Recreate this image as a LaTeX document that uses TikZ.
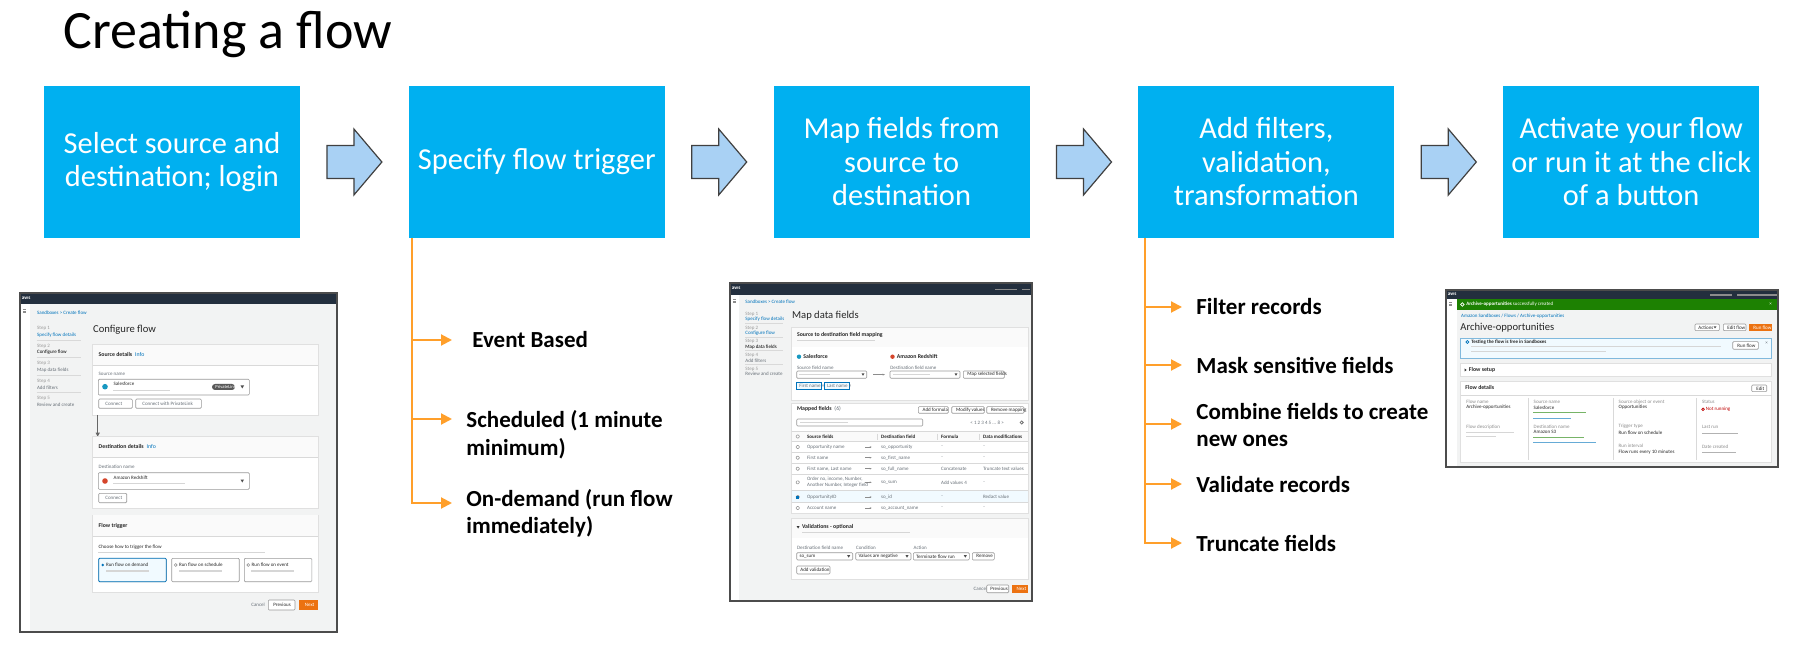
\documentclass[tikz,border=0pt]{standalone}
\usepackage{fontspec}
\setmainfont{Carlito}
\usetikzlibrary{arrows.meta,calc,positioning}

\definecolor{stepblue}{HTML}{00B0F0}
\definecolor{arrowfill}{HTML}{A9D1F4}
\definecolor{arrowedge}{HTML}{404040}
\definecolor{flagorange}{HTML}{FF9F2A}
\definecolor{awsnavy}{HTML}{232F3E}
\definecolor{ssgrey}{HTML}{F2F3F3}
\definecolor{ssband}{HTML}{FAFAFA}
\definecolor{sstext}{HTML}{687078}
\definecolor{sslink}{HTML}{0073BB}
\definecolor{ssorange}{HTML}{EC7211}
\definecolor{ssgreen}{HTML}{1D8102}
\definecolor{ssinfo}{HTML}{F1FAFF}
\definecolor{sfblue}{HTML}{1798C1}
\definecolor{rsred}{HTML}{D5452B}

\tikzset{
  stepbox/.style={fill=stepblue, text=white, minimum width=128pt, minimum height=76pt,
    inner sep=0pt, align=center, font=\fontsize{15.2}{16.75}\selectfont},
  blockarrow/.style={fill=arrowfill, draw=arrowedge, line width=0.6pt},
  trunk/.style={draw=flagorange, line width=1pt},
  branch/.style={trunk, -{Triangle[length=5.5pt,width=5.5pt]}},
  itemtext/.style={anchor=base west, inner xsep=7pt, inner ysep=0pt, align=left,
    font=\bfseries\fontsize{11.5}{13.5}\selectfont},
  ssframe/.style={draw=black!70, line width=0.8pt},
  sspanel/.style={fill=white, draw=black!12, line width=0.3pt},
  ssrule/.style={draw=black!15, line width=0.3pt},
  ssbtn/.style={draw=black!40, fill=white, line width=0.3pt, rounded corners=0.5pt},
  ssblur/.style={fill=black!16},
  sst/.style={anchor=west, inner sep=0pt, text=sstext, font=\fontsize{2.5}{2.9}\selectfont},
  ssb/.style={sst, text=black!85, font=\bfseries\fontsize{2.9}{3.4}\selectfont},
  sstitle/.style={sst, text=black!85, font=\fontsize{5.3}{6}\selectfont},
}

\begin{document}
\begin{tikzpicture}[x=0.5pt,y=-0.5pt]
\useasboundingbox (0,0) rectangle (1798,662);
\fill[white] (0,0) rectangle (1798,662);

\node[anchor=base west, inner sep=0pt, font=\fontsize{27}{32}\selectfont] (title) at (63,49) {Creating a flow};

% the five steps
\node[stepbox] (b1) at (172,162) {Select source and\\destination; login};
\node[stepbox, right=54pt of b1] (b2) {Specify flow trigger};
\node[stepbox, right=54pt of b2] (b3) {Map fields from\\source to\\destination};
\node[stepbox, right=54pt of b3] (b4) {Add filters,\\validation,\\transformation};
\node[stepbox, right=54pt of b4] (b5) {Activate your flow\\or run it at the click\\of a button};

\foreach \a/\b in {b1/b2,b2/b3,b3/b4,b4/b5}
  \draw[blockarrow] ($(\a.east)!0.5!(\b.west)$) ++(-27.5,-16.5) -- ++(27,0) -- ++(0,-16.5)
    -- ++(28,33) -- ++(-28,33) -- ++(0,-16.5) -- ++(-27,0) -- cycle;

% trigger types (base = last line)
\coordinate (t2) at ($(b2.south west)+(4,0)$);
\node[itemtext] (ev) at (452,348) {\hspace*{3pt}Event Based};
\node[itemtext] (sc) at (452,455) {Scheduled (1 minute\\minimum)};
\node[itemtext] (od) at (452,533) {On-demand (run flow\\immediately)};
\foreach \n/\s in {ev/4pt,sc/18pt,od/15pt} \coordinate (\n-in) at ([yshift=\s]\n.base west);
\foreach \n in {ev,sc} \draw[branch] (t2 |- \n-in) -- (\n-in);
\draw[branch] (t2) |- (od-in);

% filters and validation
\coordinate (t4) at ($(b4.south west)+(7,0)$);
\node[itemtext] (fr) at (1182,315) {Filter records};
\node[itemtext] (ms) at (1182,373) {Mask sensitive fields};
\node[itemtext] (cf) at (1182,446) {Combine fields to create\\new ones};
\node[itemtext] (vr) at (1182,492) {Validate records};
\node[itemtext] (tf) at (1182,551) {Truncate fields};
\foreach \n/\s in {fr/4pt,ms/4pt,cf/11pt,vr/4pt,tf/4pt} \coordinate (\n-in) at ([yshift=\s]\n.base west);
\foreach \n in {fr,ms,cf,vr} \draw[branch] (t4 |- \n-in) -- (\n-in);
\draw[branch] (t4) |- (tf-in);

% screenshot: configure flow
\begin{scope}[shift={(20,293)}]
  \fill[ssgrey] (0,0) rectangle (317,339);
  \fill[white] (0,11) rectangle (10,339);
  \fill[awsnavy] (0,0) rectangle (317,11);
  \node[sst, text=white, font=\bfseries\fontsize{2.6}{3}\selectfont] at (1.5,5) {aws};
  \foreach \y in {16.5,18,19.5} \draw[black!45, line width=0.3pt] (3,\y) -- (6,\y);
  \node[sst, text=sslink] at (16.7,19.3) {Sandboxes \textgreater{} Create flow};
  \foreach \lbl/\clr [count=\k] in {Specify flow details/sslink, Configure flow/black,
      Map data fields/sstext, Add filters/sstext, Review and create/sstext} {
    \node[sst, text=black!40] at (16.7,{35.3+17.5*(\k-1)}) {Step \k};
    \node[sst, text=\clr] at (16.7,{41.8+17.5*(\k-1)}) {\lbl};
  }
  \foreach \k in {0,...,3} \draw[ssrule] (16.7,{47+17.5*\k}) -- (61,{47+17.5*\k});
  \node[sstitle] at (72.7,37) {Configure flow};
  % source
  \draw[sspanel] (72.7,51.3) rectangle (298.3,122);
  \fill[ssband] (73,51.6) rectangle (298,72);
  \draw[ssrule] (72.7,72) -- (298.3,72);
  \node[ssb] at (78.3,61) {Source details\enspace\textcolor{sslink}{\mdseries Info}};
  \node[sst] at (78.3,81) {Source name};
  \draw[ssbtn] (78.3,86.3) rectangle (229.3,102);
  \fill[sfblue] (85,93.7) circle (2.8);
  \node[sst, text=black!85] at (93.3,91) {Salesforce};
  \fill[ssblur] (93.3,96.9) rectangle (150,98.3);
  \fill[black!65, rounded corners=1.5pt] (192,91) rectangle (215,97);
  \node[sst, text=white, font=\fontsize{2.3}{3}\selectfont] at (195,94) {PrivateLink};
  \fill[black!70] (220.5,92.5) -- (224,92.5) -- (222.3,95.5) -- cycle;
  \draw[ssbtn] (78.7,106) rectangle (112.3,115.3);
  \node[sst] at (85,110.7) {Connect};
  \draw[ssbtn] (115.7,106) rectangle (181.3,115.3);
  \node[sst] at (122,110.7) {Connect with PrivateLink};
  \draw[black!60, line width=0.4pt, -{Triangle[length=2pt,width=2pt]}] (77.7,122) -- (77.7,143.7);
  % destination
  \draw[sspanel] (72.7,143.7) rectangle (298.3,215.3);
  \fill[ssband] (73,144) rectangle (298,164.7);
  \draw[ssrule] (72.7,164.7) -- (298.3,164.7);
  \node[ssb] at (78.3,153.7) {Destination details\enspace\textcolor{sslink}{\mdseries Info}};
  \node[sst] at (78.3,173.7) {Destination name};
  \draw[ssbtn] (78.3,179.7) rectangle (229.3,196.3);
  \fill[rsred] (85,188) circle (2.8);
  \node[sst, text=black!85] at (93.3,184.7) {Amazon Redshift};
  \fill[ssblur] (93.3,190) rectangle (165,191.4);
  \fill[black!70] (220.5,186.5) -- (224,186.5) -- (222.3,189.5) -- cycle;
  \draw[ssbtn] (78.7,200.3) rectangle (106.7,209.7);
  \node[sst] at (85,205) {Connect};
  % trigger
  \draw[sspanel] (72.7,222) rectangle (298.3,299.3);
  \fill[ssband] (73,222.3) rectangle (298,243);
  \draw[ssrule] (72.7,243) -- (298.3,243);
  \node[ssb] at (78.3,232.7) {Flow trigger};
  \node[sst, text=black!85] at (78.3,253.7) {Choose how to trigger the flow};
  \fill[ssblur] (78.3,258.6) rectangle (245,260);
  \foreach \xa/\lbl in {78.7/Run flow on demand, 151.7/Run flow on schedule, 224.3/Run flow on event} {
    \draw[ssbtn] (\xa,265.3) rectangle ({\xa+67.5},288.7);
    \draw[black!40, fill=white, line width=0.3pt] ({\xa+4},272) circle (1.4);
    \node[sst, text=black!85] at ({\xa+7},272) {\lbl};
    \fill[ssblur] ({\xa+7},277.3) rectangle ({\xa+50},278.6);
  }
  \draw[sslink, fill=ssinfo, line width=0.4pt, rounded corners=0.5pt] (78.7,265.3) rectangle (146.2,288.7);
  \fill[sslink] (82.7,272) circle (1.4);
  \node[sst, text=black!85] at (85.7,272) {Run flow on demand};
  \fill[ssblur] (85.7,277.3) rectangle (128.7,278.6);
  \node[sst] at (231,312) {Cancel};
  \draw[ssbtn] (248.3,307) rectangle (275,317);
  \node[sst, text=black!85] at (253,312) {Previous};
  \fill[ssorange] (279,307) rectangle (298.3,317);
  \node[sst, text=white] at (284.5,312) {Next};
  \draw[ssframe] (0,0) rectangle (317,339);
\end{scope}

% screenshot: map data fields
\begin{scope}[shift={(730,283)}]
  \fill[ssgrey] (0,0) rectangle (302,318);
  \fill[white] (0,12) rectangle (9,318);
  \fill[awsnavy] (0,0) rectangle (302,12);
  \node[sst, text=white, font=\bfseries\fontsize{2.6}{3}\selectfont] at (1.5,5.5) {aws};
  \fill[black!45] (265,5.6) rectangle (286.7,7);
  \fill[black!45] (291.7,5.6) rectangle (300,7);
  \foreach \y in {16.5,18,19.5} \draw[black!45, line width=0.3pt] (3,\y) -- (6,\y);
  \node[sst, text=sslink] at (15,18.7) {Sandboxes \textgreater{} Create flow};
  \foreach \lbl/\clr [count=\k] in {Specify flow details/sslink, Configure flow/sslink,
      Map data fields/black, Add filters/sstext, Review and create/sstext} {
    \node[sst, text=black!40] at (15,{31.3+13.7*(\k-1)}) {Step \k};
    \node[sst, text=\clr] at (15,{36.3+13.7*(\k-1)}) {\lbl};
  }
  \foreach \k in {0,...,3} \draw[ssrule] (15,{40.3+13.7*\k}) -- (52.7,{40.3+13.7*\k});
  \node[sstitle] at (61.7,32.7) {Map data fields};
  % mapping
  \draw[sspanel] (61.7,44.3) rectangle (298.3,117);
  \fill[ssband] (62,44.6) rectangle (298,64.3);
  \node[ssb] at (66.7,52) {Source to destination field mapping};
  \fill[ssblur] (66.7,57.1) rectangle (145,58.3);
  \fill[sfblue] (69,73.7) circle (2.2);
  \node[ssb] at (73,73.7) {Salesforce};
  \fill[rsred] (162.5,73.7) circle (2.2);
  \node[ssb] at (166.5,73.7) {Amazon Redshift};
  \node[sst] at (66.7,84.3) {Source field name};
  \draw[ssbtn] (66.7,88) rectangle (136.7,95.3);
  \fill[ssblur] (69,91) rectangle (100,92.2);
  \fill[black!70] (131.5,90.3) -- (134.5,90.3) -- (133,92.8) -- cycle;
  \draw[black!45, line width=0.3pt, -{Stealth[length=1.2pt]}] (143.3,91.6) -- (155,91.6);
  \node[sst] at (160,84.3) {Destination field name};
  \draw[ssbtn] (160,88) rectangle (230,95.3);
  \fill[ssblur] (162.5,91) rectangle (200,92.2);
  \fill[black!70] (224.5,90.3) -- (227.5,90.3) -- (226,92.8) -- cycle;
  \draw[ssbtn] (233.3,88) rectangle (274.3,95.3);
  \node[sst, text=black!85] at (237,91.6) {Map selected fields};
  \draw[sslink, fill=ssinfo, line width=0.3pt] (66.7,99.3) rectangle (91.7,106.3);
  \node[sst] at (69,102.8) {First name \texttimes};
  \draw[sslink, fill=ssinfo, line width=0.3pt] (94.3,99.3) rectangle (119.3,106.3);
  \node[sst] at (96.6,102.8) {Last name \texttimes};
  % mapped fields
  \draw[sspanel] (61.7,120.3) rectangle (298.3,230.3);
  \node[ssb] at (66.7,126.3) {Mapped fields\enspace\textcolor{sstext}{\mdseries(6)}};
  \foreach \xa/\xb/\lbl in {188.3/218.3/Add formula, 221.7/254.3/Modify values, 256.7/294/Remove mapping} {
    \draw[ssbtn] (\xa,123.7) rectangle (\xb,130.3);
    \node[sst, text=black!85] at ({\xa+4},127) {\lbl};
  }
  \draw[ssbtn] (66.7,136) rectangle (192.7,143);
  \fill[ssblur] (70,139) rectangle (118,140.2);
  \node[sst] at (240,139.5) {\textless{} 1 2 3 4 5 ... 8 \textgreater};
  \draw[black!55, line width=0.4pt] (291.7,139.5) circle (1.6);
  \fill[ssband] (62,148.3) rectangle (298,158.7);
  \draw[ssrule] (61.7,148.3) -- (298.3,148.3);
  \draw[ssrule] (61.7,158.7) -- (298.3,158.7);
  \foreach \x/\lbl in {76.7/Source fields, 150.7/Destination field, 210.7/Formula, 252.7/Data modifications}
    \node[ssb, font=\bfseries\fontsize{2.5}{3}\selectfont] at (\x,153.5) {\lbl};
  \foreach \x in {147,207,249} \draw[ssrule] (\x,150.5) -- (\x,156.5);
  \fill[ssinfo] (62,207) rectangle (298,219.5);
  \foreach \y in {169.3,180.2,191.2,207,219.5} \draw[ssrule] (61.7,\y) -- (298.3,\y);
  \foreach \y in {153.5,164,174.7,185.7,199.3,214,225} \draw[ssbtn] (66.2,{\y-1.5}) rectangle (69.2,{\y+1.5});
  \fill[sslink] (66.2,212.5) rectangle (69.2,215.5);
  \foreach \y/\src/\dst/\frm/\mdf in {164/Opportunity name/so\_opportunity/-/-,
      174.7/First name/so\_first\_name/-/-,
      185.7/{First name, Last name}/so\_full\_name/Concatenate/Truncate text values,
      199.3/{}/so\_sum/Add values 4/-,
      214/OpportunityID/so\_id/-/Redact value,
      225/Account name/so\_account\_name/-/-} {
    \node[sst] at (76.7,\y) {\src};
    \draw[black!45, line width=0.25pt, -{Stealth[length=1pt]}] (135,\y) -- (141.7,\y);
    \node[sst] at (150.7,\y) {\dst};
    \node[sst] at (210.7,\y) {\frm};
    \node[sst] at (252.7,\y) {\mdf};
  }
  \node[sst, align=left] at (76.7,199.3) {Order no, income, Number,\\Another Number, Integer field};
  % validations
  \draw[sspanel] (61.7,235.3) rectangle (298.3,296.3);
  \fill[ssband] (62,235.6) rectangle (298,255.3);
  \fill[black!80] (66.7,243.2) -- (69.5,243.2) -- (68.1,245.5) -- cycle;
  \node[ssb] at (71.7,244.3) {Validations - optional};
  \fill[ssblur] (71.7,249.2) rectangle (180,250.4);
  \node[sst] at (66.7,264.3) {Destination field name};
  \node[sst] at (125.7,264.3) {Condition};
  \node[sst] at (183.3,264.3) {Action};
  \foreach \xa/\xb/\lbl in {66.7/122.7/so\_sum, 125.7/181/Values are negative, 183.3/239.3/Terminate flow run} {
    \draw[ssbtn] (\xa,269.7) rectangle (\xb,277);
    \node[sst, text=black!85] at ({\xa+2.5},273.4) {\lbl};
    \fill[black!70] ({\xb-5.5},272.2) -- ({\xb-2.5},272.2) -- ({\xb-4},274.7) -- cycle;
  }
  \draw[ssbtn] (242.3,269.7) rectangle (264.3,277);
  \node[sst, text=black!85] at (246,273.4) {Remove};
  \draw[ssbtn] (66.7,283) rectangle (100,291);
  \node[sst, text=black!85] at (70,287) {Add validation};
  \node[sst] at (243.3,306) {Cancel};
  \draw[ssbtn] (256.7,302) rectangle (278.7,309.7);
  \node[sst, text=black!85] at (260,306) {Previous};
  \fill[ssorange] (282.3,302) rectangle (298.3,309.7);
  \node[sst, text=white] at (286.3,306) {Next};
  \draw[ssframe] (0,0) rectangle (302,318);
\end{scope}

% screenshot: flow created
\begin{scope}[shift={(1446,290)}]
  \fill[ssgrey] (0,0) rectangle (332,177);
  \fill[white] (0,9.3) rectangle (10.7,177);
  \fill[awsnavy] (0,0) rectangle (332,9.3);
  \node[sst, text=white, font=\bfseries\fontsize{2.6}{3}\selectfont] at (1.5,4.7) {aws};
  \fill[black!45] (264,4.3) rectangle (285.7,5.6);
  \fill[black!45] (290.7,4.3) rectangle (330.7,5.6);
  \foreach \y in {12.5,14,15.5} \draw[black!45, line width=0.3pt] (3.3,\y) -- (6.3,\y);
  \fill[ssgreen] (10.7,9.3) rectangle (330.7,20);
  \draw[white, line width=0.35pt] (16.3,14.5) circle (1.8);
  \node[sst, text=white] at (20,14.5) {\textbf{Archive-opportunities} successfully created};
  \node[sst, text=white] at (323,14.5) {\texttimes};
  \node[sst, text=sslink] at (14.7,26) {Amazon Sandboxes / Flows / Archive-opportunities};
  \node[sstitle] at (14,37.3) {Archive-opportunities};
  \draw[ssbtn] (249,34) rectangle (273.3,40.7);
  \node[sst, text=black!85] at (252,37.4) {Actions};
  \fill[black!70] (267.5,36.3) -- (270.5,36.3) -- (269,38.5) -- cycle;
  \draw[ssbtn] (277.3,34) rectangle (300,40.7);
  \node[sst, text=black!85] at (281,37.4) {Edit flow};
  \fill[ssorange] (303,34) rectangle (325.7,40.7);
  \node[sst, text=white] at (307,37.4) {Run flow};
  % info box
  \draw[sslink!50, fill=ssinfo, line width=0.4pt] (14.7,48.3) rectangle (325.7,68.3);
  \draw[sslink, line width=0.35pt] (21.3,52) circle (1.5);
  \node[ssb, font=\bfseries\fontsize{2.5}{3}\selectfont] at (25,52) {Testing the flow is free in Sandboxes};
  \fill[ssblur] (25,56.1) rectangle (275,57.3);
  \fill[ssblur] (25,60.6) rectangle (160,61.8);
  \draw[ssbtn] (286.7,51.7) rectangle (312.3,59.3);
  \node[sst, text=black!85] at (291,55.5) {Run flow};
  \node[sst] at (319,53.3) {\texttimes};
  % flow setup
  \draw[sspanel] (14.7,73.3) rectangle (325.7,86.7);
  \fill[black!80] (18.5,78.5) -- (20.7,80) -- (18.5,81.5) -- cycle;
  \node[ssb] at (22.5,80) {Flow setup};
  % flow details
  \draw[sspanel] (14.7,91.7) rectangle (325.7,172.7);
  \node[ssb] at (19,97.3) {Flow details};
  \draw[ssbtn] (305.7,95) rectangle (320.7,101.7);
  \node[sst, text=black!85] at (310,98.4) {Edit};
  \draw[ssrule] (14.7,105) -- (325.7,105);
  \foreach \x in {82.3,167.3,250.7} \draw[ssrule] (\x,108) -- (\x,170);
  \node[sst, text=black!45] at (20,111.7) {Flow name};
  \node[sst, text=black!85] at (20,117.3) {Archive-opportunities};
  \node[sst, text=black!45] at (20,136.7) {Flow description};
  \fill[ssblur] (20,141.7) rectangle (68,142.9);
  \fill[ssblur] (20,146.1) rectangle (50,147.3);
  \node[sst, text=black!45] at (87.3,111.7) {Source name};
  \node[sst, text=black!85] at (87.3,117.3) {Salesforce};
  \fill[ssgreen!60] (87.3,122.1) rectangle (140,123.3);
  \fill[sslink!60] (87.3,127.7) rectangle (125,128.9);
  \node[sst, text=black!45] at (87.3,136.7) {Destination name};
  \node[sst, text=black!85] at (87.3,142.3) {Amazon S3};
  \fill[ssgreen!60] (87.3,146.7) rectangle (138,147.9);
  \fill[sslink!60] (87.3,151.7) rectangle (150,152.9);
  \node[sst, text=black!45] at (172.3,111.7) {Source object or event};
  \node[sst, text=black!85] at (172.3,117.3) {Opportunities};
  \node[sst, text=black!45] at (172.3,136.7) {Trigger type};
  \node[sst, text=black!85] at (172.3,142.3) {Run flow on schedule};
  \node[sst, text=black!45] at (172.3,155.7) {Run interval};
  \node[sst, text=black!85] at (172.3,161.7) {Flow runs every 10 minutes};
  \node[sst, text=black!45] at (255.7,111.7) {Status};
  \draw[red!75!black, line width=0.35pt] (257,119.3) circle (1.3);
  \node[sst, text=red!75!black] at (259.5,119.3) {Not running};
  \node[sst, text=black!45] at (255.7,136.7) {Last run};
  \fill[black!30] (255.7,142.7) rectangle (292,143.9);
  \node[sst, text=black!45] at (255.7,156.7) {Date created};
  \fill[black!30] (255.7,162.1) rectangle (290,163.3);
  \draw[ssframe] (0,0) rectangle (332,177);
\end{scope}
\end{tikzpicture}
\end{document}
